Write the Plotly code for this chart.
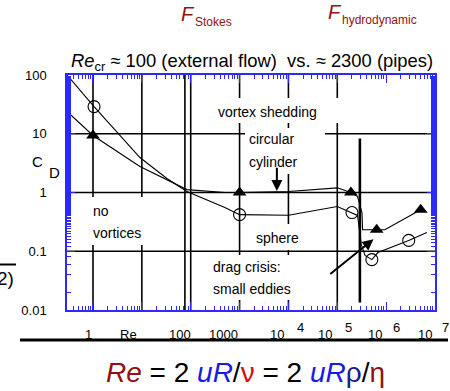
import plotly.graph_objects as go
import math

# ---------------- data ----------------
sphere_re = [0.294, 1.05, 9.13, 32.6, 83.6, 500, 1000, 1e4, 1e5, 2e5, 2.6e5, 3.1e5, 3.7e5, 5.1e5, 6.8e5, 2.9e6, 6.8e6]
sphere_cd = [100, 29.0, 3.94, 1.73, 1.04, 0.556, 0.42, 0.41, 0.578, 0.456, 0.406, 0.13, 0.085, 0.072, 0.095, 0.153, 0.208]
sphere_mark_re = [1.05, 1000, 2e5, 5.1e5, 2.9e6]
sphere_mark_cd = [29.0, 0.42, 0.456, 0.072, 0.153]

cyl_re = [0.294, 1, 9.13, 83.6, 500, 1000, 1e4, 1e5, 1.9e5, 2.6e5, 3.2e5, 3.3e5, 6.4e5, 9.4e5, 5.1e6]
cyl_cd = [23.9, 9.34, 2.77, 1.12, 1.0, 1.0, 1.04, 1.2, 1.0, 0.855, 0.456, 0.232, 0.232, 0.232, 0.51]
cyl_mark_re = [1, 1000, 1.9e5, 6.4e5, 5.1e6]
cyl_mark_cd = [9.34, 1.0, 1.0, 0.232, 0.51]

grid_re = [1, 10, 76, 100, 1000, 1e4, 1e5]
grid_cd = [0.1, 1, 10]
crisis_re = 2.9e5
crisis_cd = [8.3, 0.0134]

x_range = [-0.532, 7.0]
y_range = [-2, 2]
y_ticks = [0.01, 0.1, 1, 10, 100]
y_ticktext = ["0.01", "0.1", "1", "10", "100"]

x_ticklabels = ["1", "Re", "100", "1000", "10", "10", "10", "10"]
x_ticklabel_px = [88, 128, 180, 223, 277, 325, 375, 425]
x_sup = ["4", "5", "6", "7"]
x_sup_px = [300, 348, 396, 445]

# ---------------- layout geometry ----------------
W, H = 450, 391
L, R, T, B = 67, 15, 75, 81
PW, PH = W - L - R, H - T - B


def px(x):
    return (x - L) / PW


def py(y):
    return (H - B - y) / PH


BLUE = "#2a2aff"
DARKRED = "#8e1212"
FONT = "Liberation Sans"

fig = go.Figure()

# grid lines
gx, gy = [], []
for r in grid_re:
    gx += [r, r, None]
    gy += [0.01, 100, None]
for c in grid_cd:
    gx += [10 ** x_range[0], 10 ** x_range[1], None]
    gy += [c, c, None]
fig.add_trace(go.Scatter(x=gx, y=gy, mode="lines", line=dict(color="black", width=1.6),
                         hoverinfo="skip", showlegend=False))

# drag crisis line
fig.add_trace(go.Scatter(x=[crisis_re, crisis_re], y=crisis_cd, mode="lines",
                         line=dict(color="black", width=2.6), showlegend=False))

# curves
fig.add_trace(go.Scatter(x=sphere_re, y=sphere_cd, mode="lines",
                         line=dict(color="black", width=1.1), showlegend=False))
fig.add_trace(go.Scatter(x=cyl_re, y=cyl_cd, mode="lines",
                         line=dict(color="black", width=1.1), showlegend=False))
fig.add_trace(go.Scatter(x=sphere_mark_re, y=sphere_mark_cd, mode="markers",
                         marker=dict(symbol="circle-open", size=12, color="black",
                                     line=dict(width=1.1, color="black")), showlegend=False))
fig.add_trace(go.Scatter(x=cyl_mark_re, y=cyl_mark_cd, mode="markers",
                         marker=dict(symbol="triangle-up", size=12, color="black"),
                         showlegend=False))

shapes = []
# white label boxes
for (x0, y0, x1, y1) in [(212, 98, 341, 123), (245, 128, 325, 174), (88, 197, 146, 245),
                         (250, 224, 305, 250), (205, 255, 332, 300)]:
    shapes.append(dict(type="rect", xref="paper", yref="paper", x0=px(x0), x1=px(x1),
                       y0=py(y1), y1=py(y0), fillcolor="white", line=dict(width=0),
                       layer="above"))
# bottom thick rule
shapes.append(dict(type="line", xref="paper", yref="paper", x0=px(20), x1=px(448),
                   y0=py(340), y1=py(340), line=dict(color="black", width=3)))
# fragment overline at left
shapes.append(dict(type="line", xref="paper", yref="paper", x0=px(0), x1=px(16),
                   y0=py(264.5), y1=py(264.5), line=dict(color="black", width=2)))

ann = []


def text(t, x, y, size=14, xanchor="left", color="black", **kw):
    ann.append(dict(text=t, x=px(x), y=py(y), xref="paper", yref="paper", showarrow=False,
                    xanchor=xanchor, yanchor="middle",
                    font=dict(family=FONT, size=size, color=color), **kw))


text("vortex shedding", 216, 112)
text("circular", 247, 139)
text("cylinder", 247, 162)
text("no", 91, 211)
text("vortices", 91, 233)
text("sphere", 277, 238, xanchor="center")
text("drag crisis:", 211, 267)
text("small eddies", 211, 289)

text("C", 37, 161, size=15, xanchor="center")
text("D", 54, 172, size=15, xanchor="center")

for t, xp in zip(x_ticklabels, x_ticklabel_px):
    text(t, xp, 334, size=13, xanchor="center")
for t, xp in zip(x_sup, x_sup_px):
    text(t, xp, 327.5, size=13, xanchor="center")

# header texts
text("<i>F</i>", 188, 14, size=20, xanchor="center", color=DARKRED)
text("Stokes", 193, 22, size=12, color=DARKRED)
text("<i>F</i>", 335, 12, size=20, xanchor="center", color=DARKRED)
text("hydrodynamic", 340, 20, size=12, color=DARKRED)

text("<i>Re</i><sub>cr</sub> ≈ 100 (external flow)  vs. ≈ 2300 (pipes)", 69, 62, size=18.4)

text("2)", 16, 278, size=19, xanchor="right")

formula = ('<span style="color:#8e1212"><i>Re</i></span> = 2 '
           '<span style="color:#1a1ae6"><i>uR</i></span>/'
           '<span style="color:#d01010">ν</span> = 2 '
           '<span style="color:#1a1ae6"><i>uR</i></span>'
           '<span style="color:#1a1a8a">ρ</span>/'
           '<span style="color:#8e1212">η</span>')
text(formula, 245, 372, size=28, xanchor="center")

# arrows
ann.append(dict(x=math.log10(5.8e3), y=math.log10(1.06), ax=math.log10(5.8e3), ay=math.log10(2.8),
                xref="x", yref="y", axref="x", ayref="y", text="", showarrow=True,
                arrowhead=2, arrowsize=1.1, arrowwidth=2, arrowcolor="black", standoff=0))
ann.append(dict(x=math.log10(5.5e5), y=math.log10(0.16), ax=math.log10(6.7e4), ay=math.log10(0.039),
                xref="x", yref="y", axref="x", ayref="y", text="", showarrow=True,
                arrowhead=2, arrowsize=1.1, arrowwidth=2, arrowcolor="black", standoff=0))

axis_common = dict(type="log", showline=True, linecolor=BLUE, linewidth=1.5, mirror="allticks",
                   ticks="inside", tickcolor=BLUE, tickwidth=1.2, ticklen=8, showgrid=False,
                   zeroline=False,
                   minor=dict(ticks="inside", ticklen=4, tickcolor=BLUE, tickwidth=0.8, showgrid=False))

fig.update_xaxes(range=x_range, dtick=1, showticklabels=False, **axis_common)
fig.update_yaxes(range=y_range, tickvals=y_ticks, ticktext=y_ticktext,
                 tickfont=dict(family=FONT, size=13, color="black"), ticklabelstandoff=16,
                 **axis_common)

fig.update_layout(width=W, height=H, margin=dict(l=L, r=R, t=T, b=B, pad=0),
                  plot_bgcolor="white", paper_bgcolor="white", showlegend=False,
                  shapes=shapes, annotations=ann)

fig.write_html("out.html", config={"displayModeBar": False},
               post_script="document.body.style.margin='0px';")
